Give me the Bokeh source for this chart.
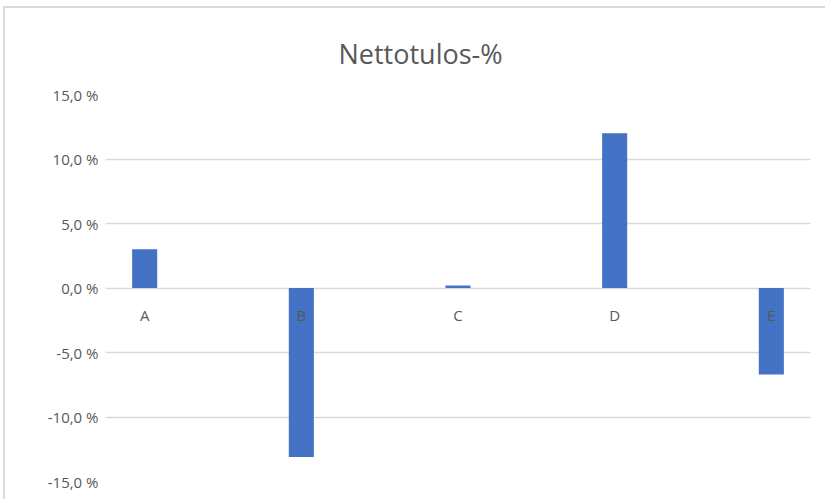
from bokeh.plotting import figure
from bokeh.models import Range1d, FixedTicker, CustomJSTickFormatter
from bokeh.core.properties import value
from bokeh.embed import file_html
from bokeh.resources import INLINE

# ---- data ----
categories = ["A", "B", "C", "D", "E"]
values = [3.0, -13.1, 0.2, 12.0, -6.7]
y_ticks = [-15, -10, -5, 0, 5, 10, 15]
title_text = "Nettotulos-%"

xs = list(range(len(categories)))
zeros = [0] * len(categories)

GRAY_TEXT = "#595959"
GRID = "#d9d9d9"
FONT = "Open Sans"

p = figure(width=822, height=493, output_backend="svg", toolbar_location=None,
           x_range=Range1d(-0.25, len(categories) - 0.75),
           y_range=Range1d(min(y_ticks), max(y_ticks)),
           min_border_left=100, min_border_right=17,
           min_border_top=86, min_border_bottom=20,
           x_axis_location=None)

p.styles = {"margin-left": "3px", "margin-top": "6px",
            "border-left": "2px solid #d9d9d9", "border-top": "2px solid #d9d9d9"}

p.outline_line_color = None
p.background_fill_color = "white"
p.border_fill_color = "white"
for g in p.grid:
    if g.dimension == 0:
        g.visible = False

# y axis
ticker = FixedTicker(ticks=y_ticks)
p.yaxis.ticker = ticker
p.yaxis.formatter = CustomJSTickFormatter(code="return tick.toFixed(1).replace('.', ',') + ' %';")
p.yaxis.axis_line_color = None
p.yaxis.major_tick_line_color = None
p.yaxis.minor_tick_line_color = None
p.yaxis.major_tick_in = 0
p.yaxis.major_tick_out = 0
p.yaxis.major_label_standoff = 7
p.yaxis.major_label_text_font = FONT
p.yaxis.major_label_text_font_size = "15px"
p.yaxis.major_label_text_color = GRAY_TEXT

p.ygrid.ticker = ticker
p.ygrid.grid_line_color = GRID
p.ygrid.grid_line_width = 1.5

# bars
p.vbar(x=xs, top=values, bottom=zeros, width=0.16, fill_color="#4472C4", line_color=None)

# category labels next to the zero line
p.text(x=xs, y=zeros, text=categories, text_align="center", text_baseline="middle",
       y_offset=27, text_font=value(FONT), text_font_size="15px", text_color=GRAY_TEXT)

# title
p.title.text = title_text
p.title.align = "left"
p.title.offset = 233
p.title.text_font = FONT
p.title.text_font_size = "27px"
p.title.text_font_style = "normal"
p.title.text_color = GRAY_TEXT
p.title.vertical_align = "bottom"
p.title.standoff = 45

open("out.html", "w").write(file_html(p, INLINE))
